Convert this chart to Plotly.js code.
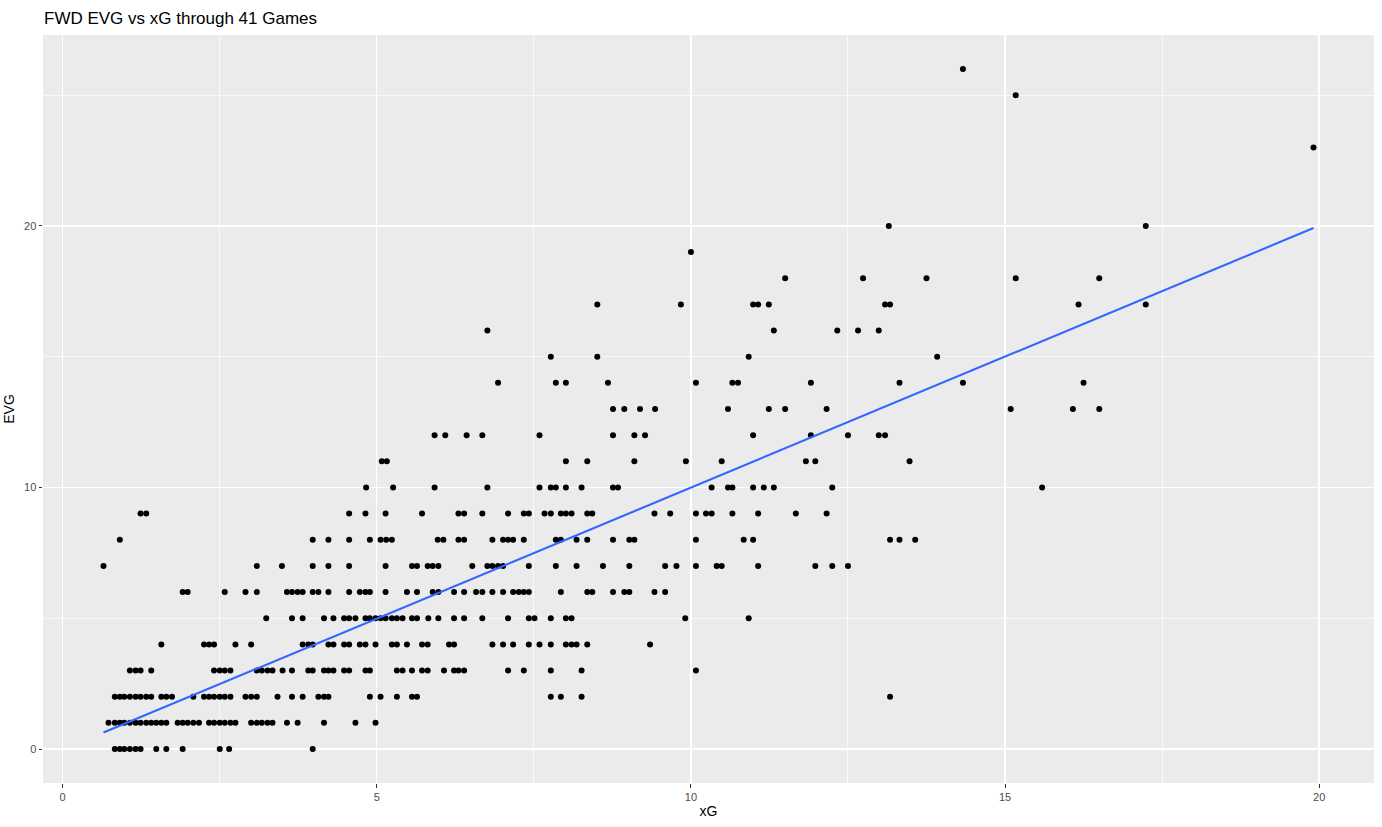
<!DOCTYPE html>
<html>
<head>
<meta charset="utf-8">
<script src="https://cdn.plot.ly/plotly-3.0.1.min.js"></script>
<style>
  html, body { margin: 0; padding: 0; background: #ffffff; }
  #chart { width: 1382px; height: 827px; }
</style>
</head>
<body>
<div id="chart"></div>
<script>
// xG values of forwards, grouped by their even-strength goals (EVG)
const evg0  = [0.83,0.91,0.98,1.07,1.16,1.24,1.49,1.65,1.91,2.50,2.65,3.98];
const evg1  = [0.73,0.83,0.91,0.98,1.07,1.16,1.24,1.33,1.41,1.49,1.57,1.65,1.83,1.91,1.99,2.08,2.17,2.33,2.41,2.50,2.58,2.67,2.75,3.00,3.09,3.17,3.26,3.34,3.57,3.74,4.16,4.66,4.98];
const evg2  = [0.83,0.91,0.98,1.07,1.16,1.24,1.33,1.41,1.57,1.65,1.74,2.08,2.25,2.33,2.41,2.50,2.58,2.67,2.91,3.00,3.09,3.42,3.65,3.82,4.07,4.16,4.23,4.89,5.06,5.32,5.56,5.64,7.77,7.93,8.26,13.17];
const evg3  = [1.07,1.16,1.24,1.41,2.41,2.50,2.58,2.67,3.09,3.17,3.26,3.34,3.50,3.65,3.91,3.98,4.16,4.23,4.31,4.48,4.56,4.82,4.89,5.32,5.41,5.56,5.72,5.81,6.07,6.23,6.30,6.39,7.09,7.34,7.77,8.26,10.08];
const evg4  = [1.57,2.25,2.33,2.41,2.75,3.00,3.82,3.91,3.98,4.23,4.31,4.48,4.56,4.73,4.82,4.98,5.24,5.32,5.48,5.72,5.81,6.15,6.23,6.84,7.01,7.17,7.42,7.59,7.77,8.01,8.10,8.18,8.35,9.35];
const evg5  = [3.24,3.65,3.82,4.16,4.31,4.48,4.56,4.66,4.82,4.89,4.98,5.06,5.14,5.24,5.32,5.41,5.56,5.64,5.82,5.98,6.23,6.39,6.68,7.09,7.42,7.51,7.77,8.01,8.10,9.91,10.92];
const evg6  = [1.91,1.99,2.58,2.91,3.09,3.57,3.65,3.74,3.82,3.98,4.07,4.23,4.56,4.73,4.82,4.89,5.14,5.48,5.64,5.89,5.98,6.23,6.39,6.58,6.68,6.84,7.01,7.17,7.26,7.34,7.42,7.93,8.35,8.43,8.76,8.94,9.02,9.42,9.59];
const evg7  = [0.65,3.09,3.49,3.98,4.23,4.56,5.14,5.56,5.64,5.81,5.89,5.98,6.52,6.76,6.84,6.93,7.01,7.42,7.85,8.18,8.60,9.02,9.59,9.77,10.08,10.41,10.49,11.07,11.98,12.25,12.50];
const evg8  = [0.91,3.98,4.23,4.56,4.89,5.06,5.15,5.24,5.97,6.06,6.30,6.39,6.84,7.01,7.09,7.17,7.34,7.85,7.93,8.18,8.35,8.76,9.02,9.10,10.08,10.84,10.99,13.17,13.32,13.57];
const evg9  = [1.24,1.33,4.56,4.82,5.14,5.72,6.30,6.39,6.68,7.09,7.34,7.42,7.67,7.77,7.93,8.01,8.10,8.35,8.43,9.42,9.67,10.08,10.24,10.33,10.66,11.07,11.67,12.16];
const evg10 = [4.83,5.26,5.92,6.76,7.59,7.77,7.85,8.01,8.26,8.76,8.84,10.33,10.59,10.66,10.99,11.16,11.32,12.25,15.59];
const evg11 = [5.08,5.16,8.01,8.35,9.10,9.92,10.49,11.83,11.98,13.48];
const evg12 = [5.92,6.09,6.43,6.68,7.59,8.76,9.10,9.27,10.99,11.91,12.50,12.99,13.09];
const evg13 = [8.76,8.94,9.19,9.43,10.59,11.24,11.50,12.16,15.09,16.08,16.50];
const evg14 = [6.93,7.85,8.01,8.68,10.08,10.66,10.75,11.91,13.32,14.33,16.25];
const evg15 = [7.77,8.51,10.92,13.92];
const evg16 = [6.76,11.32,12.33,12.66,12.99];
const evg17 = [8.51,9.84,10.99,11.07,11.24,13.09,13.17,16.17,17.24];
const evg18 = [11.50,12.74,13.75,15.17,16.50];
const evg19 = [10.00];
const evg20 = [13.15,17.24];
const evg23 = [19.91];
const evg25 = [15.17];
const evg26 = [14.33];

// linear trend (geom_smooth, method = lm): ends of the line
const trendX = [0.65, 19.91];
const trendY = [0.63, 19.92];

const goalRows = [
  [0, evg0], [1, evg1], [2, evg2], [3, evg3], [4, evg4], [5, evg5], [6, evg6],
  [7, evg7], [8, evg8], [9, evg9], [10, evg10], [11, evg11], [12, evg12],
  [13, evg13], [14, evg14], [15, evg15], [16, evg16], [17, evg17], [18, evg18],
  [19, evg19], [20, evg20], [23, evg23], [25, evg25], [26, evg26]
];

const xs = [], ys = [];
goalRows.forEach(([g, arr]) => arr.forEach(v => { xs.push(v); ys.push(g); }));

const xmin = Math.min(...xs), xmax = Math.max(...xs);
const ymin = Math.min(...ys), ymax = Math.max(...ys);
const xpad = (xmax - xmin) * 0.05, ypad = (ymax - ymin) * 0.05;
const FONT = 'Liberation Sans, Arial, sans-serif';

const traces = [
  { x: xs, y: ys, type: 'scatter', mode: 'markers',
    marker: { color: '#000000', size: 6, line: { width: 0 } }, hoverinfo: 'skip' },
  { x: trendX, y: trendY, type: 'scatter', mode: 'lines',
    line: { color: '#3366FF', width: 2.1 }, hoverinfo: 'skip' }
];

const axisCommon = {
  showgrid: true, gridcolor: '#FFFFFF', gridwidth: 1.4,
  zeroline: false, showline: false,
  ticks: 'outside', ticklen: 3.5, tickwidth: 1, tickcolor: '#333333',
  tickfont: { family: FONT, size: 11, color: '#4D4D4D' },
  fixedrange: true
};

const layout = {
  width: 1382, height: 827,
  paper_bgcolor: '#FFFFFF', plot_bgcolor: '#EBEBEB',
  margin: { l: 43, r: 8, t: 35, b: 44 },
  showlegend: false,
  title: { text: 'FWD EVG vs xG through 41 Games', x: 44 / 1382, xref: 'container', xanchor: 'left',
           y: 1 - 18 / 827, yref: 'container', yanchor: 'middle',
           font: { family: FONT, size: 17, color: '#000000' } },
  xaxis: Object.assign({}, axisCommon, {
    range: [xmin - xpad, xmax + xpad], tick0: 0, dtick: 5,
    minor: { dtick: 2.5, tick0: 0, showgrid: true, gridcolor: '#FFFFFF', gridwidth: 0.7, ticks: '' },
    title: { text: 'xG', standoff: 4, font: { family: FONT, size: 14, color: '#000000' } }
  }),
  yaxis: Object.assign({}, axisCommon, {
    range: [ymin - ypad, ymax + ypad], tick0: 0, dtick: 10,
    minor: { dtick: 5, tick0: 0, showgrid: true, gridcolor: '#FFFFFF', gridwidth: 0.7, ticks: '' },
    title: { text: 'EVG', standoff: 6, font: { family: FONT, size: 14, color: '#000000' } }
  })
};

Plotly.newPlot('chart', traces, layout, { displayModeBar: false, staticPlot: true });
</script>
</body>
</html>
